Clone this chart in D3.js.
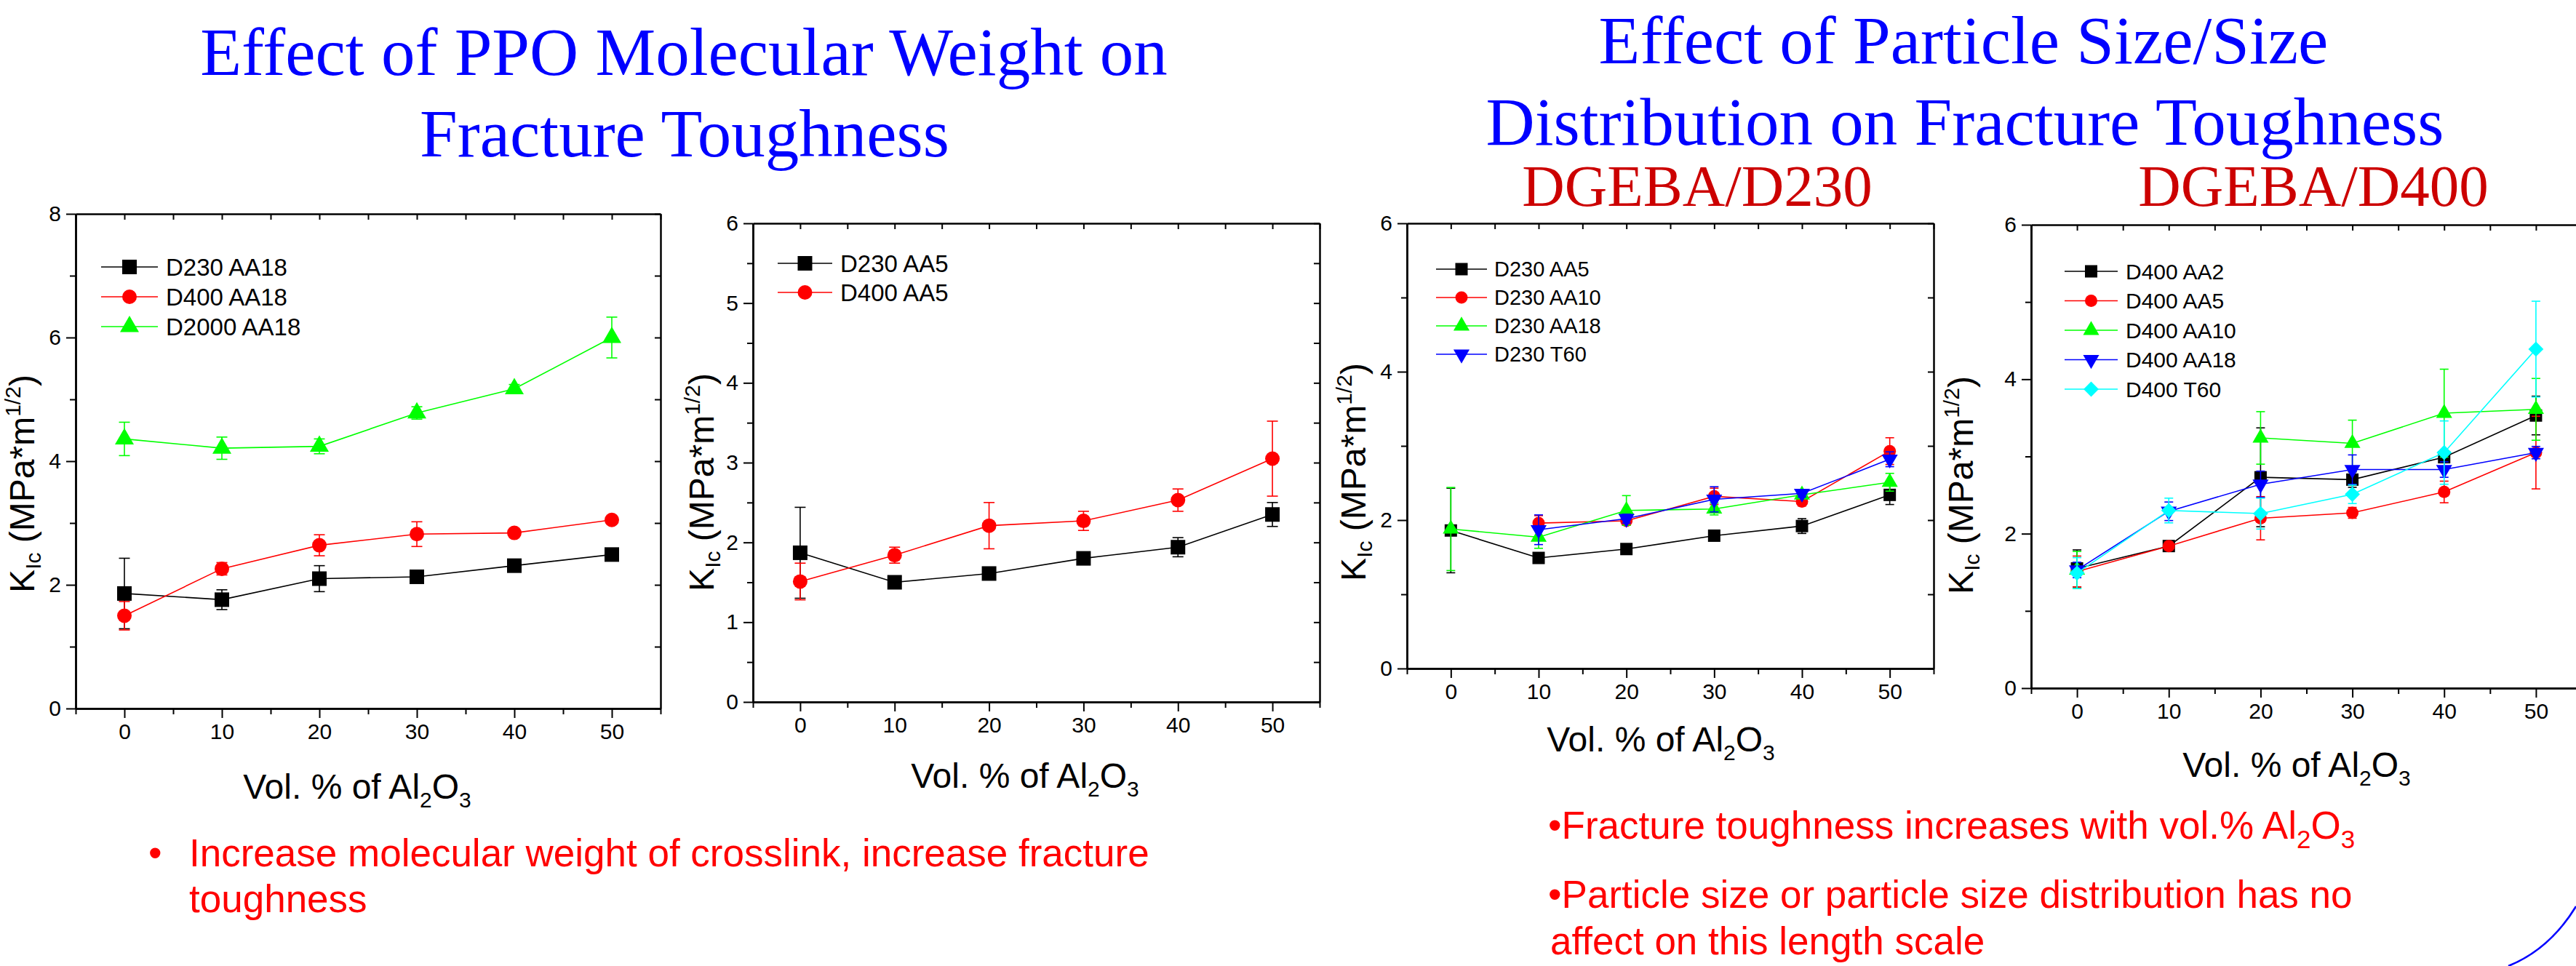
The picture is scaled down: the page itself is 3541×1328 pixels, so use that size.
<!DOCTYPE html>
<html>
<head>
<meta charset="utf-8">
<script src="https://cdn.jsdelivr.net/npm/d3@7"></script>
<style>
  html, body { margin: 0; padding: 0; background: #fff; }
  svg { display: block; }
  .tick text { font-family: "Liberation Sans", Arial, sans-serif; }
</style>
</head>
<body>
<script>
"use strict";
// x values shared by every panel
const VOL = [0, 10, 20, 30, 40, 50];
const X_MINOR = [-5, 5, 15, 25, 35, 45, 55];

// panel A: PPO molecular weight, AA18 alumina
const a_D230_AA18 = [1.86, 1.76, 2.10, 2.13, 2.31, 2.49];
const a_D230_AA18_err = [0.57, 0.16, 0.21, 0.06, 0.06, 0.10];
const a_D400_AA18 = [1.50, 2.26, 2.64, 2.82, 2.84, 3.05];
const a_D400_AA18_err = [0.23, 0.10, 0.17, 0.20, 0.04, 0.05];
const a_D2000_AA18 = [4.36, 4.21, 4.24, 4.78, 5.17, 6.00];
const a_D2000_AA18_err = [0.27, 0.18, 0.12, 0.10, 0.07, 0.33];

// panel B: PPO molecular weight, AA5 alumina
const b_D230_AA5 = [1.87, 1.50, 1.61, 1.80, 1.94, 2.35];
const b_D230_AA5_err = [0.57, 0.03, 0.03, 0.03, 0.12, 0.15];
const b_D400_AA5 = [1.51, 1.84, 2.21, 2.27, 2.53, 3.05];
const b_D400_AA5_err = [0.23, 0.10, 0.29, 0.12, 0.14, 0.47];

// panel C: DGEBA/D230, particle size
const c_D230_AA5 = [1.86, 1.49, 1.61, 1.79, 1.92, 2.34];
const c_D230_AA5_err = [0.57, 0.03, 0.03, 0.03, 0.10, 0.13];
const c_D230_AA10 = [null, 1.96, 1.99, 2.32, 2.25, 2.93];
const c_D230_AA10_err = [null, 0.10, 0.06, 0.11, 0.06, 0.18];
const c_D230_AA18 = [1.88, 1.77, 2.13, 2.15, 2.34, 2.51];
const c_D230_AA18_err = [0.56, 0.15, 0.20, 0.08, 0.05, 0.12];
const c_D230_T60 = [null, 1.87, 2.02, 2.28, 2.36, 2.82];
const c_D230_T60_err = [null, 0.20, 0.06, 0.17, 0.05, 0.10];

// panel D: DGEBA/D400, particle size
const d_D400_AA2 = [1.55, 1.84, 2.73, 2.70, 2.99, 3.53];
const d_D400_AA2_err = [0.24, 0.05, 0.64, 0.10, 0.05, 0.25];
const d_D400_AA5 = [1.51, 1.84, 2.20, 2.27, 2.54, 3.05];
const d_D400_AA5_err = [0.20, 0.05, 0.28, 0.07, 0.14, 0.47];
const d_D400_AA10 = [1.53, null, 3.24, 3.17, 3.56, 3.61];
const d_D400_AA10_err = [0.24, null, 0.34, 0.30, 0.57, 0.40];
const d_D400_AA18 = [1.53, 2.29, 2.64, 2.83, 2.83, 3.05];
const d_D400_AA18_err = [0.10, 0.12, 0.17, 0.19, 0.10, 0.08];
const d_D400_T60 = [1.49, 2.30, 2.26, 2.51, 3.05, 4.39];
const d_D400_T60_err = [0.20, 0.16, 0.20, 0.12, 0.41, 0.62];

const SANS = '"Liberation Sans", Arial, sans-serif';
const SERIF = '"Liberation Serif", "Times New Roman", serif';

const W = 3541, H = 1328;
const svg = d3.select('body').append('svg')
  .attr('width', W).attr('height', H);
svg.append('rect').attr('width', W).attr('height', H).attr('fill', '#fff');

// marker shapes, sized by nominal width in px
const SHAPES = {
  square: { type: d3.symbolSquare, area: s => s * s, rot: 0 },
  circle: { type: d3.symbolCircle, area: s => Math.PI * s * s / 4, rot: 0 },
  up: { type: d3.symbolTriangle, area: s => 0.433 * (1.3 * s) * (1.3 * s), rot: 0 },
  down: { type: d3.symbolTriangle, area: s => 0.433 * (1.3 * s) * (1.3 * s), rot: 180 },
  diamond: { type: d3.symbolSquare, area: s => 0.75 * s * s, rot: 45 }
};
function marker(sel, shape, size, color, cx, cy) {
  const sh = SHAPES[shape];
  sel.append('path')
    .attr('d', d3.symbol().type(sh.type).size(sh.area(size))())
    .attr('transform', `translate(${cx},${cy}) rotate(${sh.rot})`)
    .attr('fill', color);
}

function ser(name, vals, errs, color, shape) {
  return { name, color, shape, pts: VOL.map((v, i) => ({ x: v, y: vals[i], e: errs[i] })) };
}

const panels = [
  {
    box: { left: 104, right: 908, top: 294, bottom: 974 },
    yMax: 8, yMajor: [0, 2, 4, 6, 8], yMinor: [1, 3, 5, 7],
    ms: 20, cap: 15, legFont: 33,
    leg: { x1: 139, x2: 217, tx: 228, y0: 367, dy: 41 },
    yTitle: { x: 47, y: 665 }, xTitle: { x: 491, y: 1098 },
    series: [
      ser('D230 AA18', a_D230_AA18, a_D230_AA18_err, '#000000', 'square'),
      ser('D400 AA18', a_D400_AA18, a_D400_AA18_err, '#ff0000', 'circle'),
      ser('D2000 AA18', a_D2000_AA18, a_D2000_AA18_err, '#00ff00', 'up')
    ]
  },
  {
    box: { left: 1035, right: 1814, top: 307, bottom: 965 },
    yMax: 6, yMajor: [0, 1, 2, 3, 4, 5, 6], yMinor: [0.5, 1.5, 2.5, 3.5, 4.5, 5.5],
    ms: 20, cap: 15, legFont: 33,
    leg: { x1: 1069, x2: 1144, tx: 1155, y0: 362, dy: 40 },
    yTitle: { x: 981, y: 663 }, xTitle: { x: 1409, y: 1083 },
    series: [
      ser('D230 AA5', b_D230_AA5, b_D230_AA5_err, '#000000', 'square'),
      ser('D400 AA5', b_D400_AA5, b_D400_AA5_err, '#ff0000', 'circle')
    ]
  },
  {
    box: { left: 1934, right: 2658, top: 307, bottom: 919 },
    yMax: 6, yMajor: [0, 2, 4, 6], yMinor: [1, 3, 5],
    ms: 17, cap: 12, legFont: 29,
    leg: { x1: 1974, x2: 2044, tx: 2054, y0: 370, dy: 39 },
    yTitle: { x: 1877, y: 649 }, xTitle: { x: 2283, y: 1033 },
    series: [
      ser('D230 AA5', c_D230_AA5, c_D230_AA5_err, '#000000', 'square'),
      ser('D230 AA10', c_D230_AA10, c_D230_AA10_err, '#ff0000', 'circle'),
      ser('D230 AA18', c_D230_AA18, c_D230_AA18_err, '#00ff00', 'up'),
      ser('D230 T60', c_D230_T60, c_D230_T60_err, '#0000ff', 'down')
    ]
  },
  {
    box: { left: 2792, right: 3549, top: 309, bottom: 946 },
    yMax: 6, yMajor: [0, 2, 4, 6], yMinor: [1, 3, 5],
    ms: 17, cap: 12, legFont: 30,
    leg: { x1: 2838, x2: 2911, tx: 2922, y0: 373, dy: 40.5 },
    yTitle: { x: 2712, y: 667 }, xTitle: { x: 3157, y: 1068 },
    series: [
      ser('D400 AA2', d_D400_AA2, d_D400_AA2_err, '#000000', 'square'),
      ser('D400 AA5', d_D400_AA5, d_D400_AA5_err, '#ff0000', 'circle'),
      ser('D400 AA10', d_D400_AA10, d_D400_AA10_err, '#00ff00', 'up'),
      ser('D400 AA18', d_D400_AA18, d_D400_AA18_err, '#0000ff', 'down'),
      ser('D400 T60', d_D400_T60, d_D400_T60_err, '#00ffff', 'diamond')
    ]
  }
];

function styleAxis(g, fs) {
  g.select('.domain').attr('stroke', '#000').attr('stroke-width', 2.5);
  g.selectAll('.tick line').attr('stroke', '#000').attr('stroke-width', 2);
  g.selectAll('.tick text').attr('fill', '#000').style('font-size', fs + 'px');
}

function drawPanel(p) {
  const b = p.box;
  const x = d3.scaleLinear().domain([-5, 55]).range([b.left, b.right]);
  const y = d3.scaleLinear().domain([0, p.yMax]).range([b.bottom, b.top]);
  const g = svg.append('g');

  // top and right frame with inward ticks
  g.append('g').attr('transform', `translate(0,${b.top})`)
    .call(d3.axisBottom(x).tickValues(VOL.concat(X_MINOR)).tickSize(8).tickSizeOuter(0).tickFormat(''))
    .call(s => styleAxis(s, 30));
  g.append('g').attr('transform', `translate(${b.right},0)`)
    .call(d3.axisLeft(y).tickValues(p.yMajor.concat(p.yMinor)).tickSize(8).tickSizeOuter(0).tickFormat(''))
    .call(s => styleAxis(s, 30));

  // bottom axis: major + minor
  g.append('g').attr('transform', `translate(0,${b.bottom})`)
    .call(d3.axisBottom(x).tickValues(X_MINOR).tickSize(8).tickSizeOuter(0).tickFormat(''))
    .call(s => styleAxis(s, 30));
  g.append('g').attr('transform', `translate(0,${b.bottom})`)
    .call(d3.axisBottom(x).tickValues(VOL).tickSize(13).tickSizeOuter(0).tickPadding(8).tickFormat(d3.format('d')))
    .call(s => styleAxis(s, 30));

  // left axis: major + minor
  g.append('g').attr('transform', `translate(${b.left},0)`)
    .call(d3.axisLeft(y).tickValues(p.yMinor).tickSize(8).tickSizeOuter(0).tickFormat(''))
    .call(s => styleAxis(s, 30));
  g.append('g').attr('transform', `translate(${b.left},0)`)
    .call(d3.axisLeft(y).tickValues(p.yMajor).tickSize(13).tickSizeOuter(0).tickPadding(7).tickFormat(d3.format('d')))
    .call(s => styleAxis(s, 30));

  // axis titles
  const yt = g.append('text')
    .attr('transform', `translate(${p.yTitle.x},${p.yTitle.y}) rotate(-90)`)
    .attr('text-anchor', 'middle')
    .style('font-family', SANS).style('font-size', '48px').attr('fill', '#000');
  yt.append('tspan').text('K');
  yt.append('tspan').attr('dy', 9).style('font-size', '30px').text('Ic');
  yt.append('tspan').attr('dy', -9).text(' (MPa*m');
  yt.append('tspan').attr('dy', -19).style('font-size', '30px').text('1/2');
  yt.append('tspan').attr('dy', 19).text(')');

  const xt = g.append('text')
    .attr('x', p.xTitle.x).attr('y', p.xTitle.y)
    .attr('text-anchor', 'middle')
    .style('font-family', SANS).style('font-size', '48px').attr('fill', '#000');
  xt.append('tspan').text('Vol. % of Al');
  xt.append('tspan').attr('dy', 12).style('font-size', '30px').text('2');
  xt.append('tspan').attr('dy', -12).text('O');
  xt.append('tspan').attr('dy', 12).style('font-size', '30px').text('3');

  // data
  const line = d3.line().defined(d => d.y != null).x(d => x(d.x)).y(d => y(d.y));
  p.series.forEach(s => {
    const sg = g.append('g');
    sg.append('path').datum(s.pts).attr('d', line)
      .attr('fill', 'none').attr('stroke', s.color).attr('stroke-width', 1.6);
    s.pts.filter(d => d.y != null && d.e).forEach(d => {
      const cx = x(d.x), y1 = y(d.y + d.e), y2 = y(d.y - d.e);
      sg.append('line').attr('x1', cx).attr('x2', cx).attr('y1', y1).attr('y2', y2)
        .attr('stroke', s.color).attr('stroke-width', 1.6);
      [y1, y2].forEach(yy => sg.append('line')
        .attr('x1', cx - p.cap / 2).attr('x2', cx + p.cap / 2).attr('y1', yy).attr('y2', yy)
        .attr('stroke', s.color).attr('stroke-width', 1.6));
    });
    s.pts.filter(d => d.y != null).forEach(d => marker(sg, s.shape, p.ms, s.color, x(d.x), y(d.y)));
  });

  // legend
  p.series.forEach((s, i) => {
    const ly = p.leg.y0 + i * p.leg.dy;
    const mx = (p.leg.x1 + p.leg.x2) / 2;
    g.append('line').attr('x1', p.leg.x1).attr('x2', p.leg.x2).attr('y1', ly).attr('y2', ly)
      .attr('stroke', s.color).attr('stroke-width', 1.6);
    marker(g, s.shape, p.ms, s.color, mx, ly);
    g.append('text').attr('x', p.leg.tx).attr('y', ly).attr('dy', '0.36em')
      .style('font-family', SANS).style('font-size', p.legFont + 'px').attr('fill', '#000')
      .text(s.name);
  });
}

panels.forEach(drawPanel);

// slide headings
const headings = [
  { text: 'Effect of PPO Molecular Weight on', x: 940, y: 103, size: 93, color: '#0000ff' },
  { text: 'Fracture Toughness', x: 941, y: 215, size: 93, color: '#0000ff' },
  { text: 'Effect of Particle Size/Size', x: 2699, y: 87, size: 93, color: '#0000ff' },
  { text: 'Distribution on Fracture Toughness', x: 2701, y: 199, size: 93, color: '#0000ff' },
  { text: 'DGEBA/D230', x: 2333, y: 283, size: 81, color: '#cc0000' },
  { text: 'DGEBA/D400', x: 3180, y: 283, size: 81, color: '#cc0000' }
];
svg.append('g').selectAll('text').data(headings).join('text')
  .attr('x', d => d.x).attr('y', d => d.y)
  .attr('text-anchor', 'middle')
  .style('font-family', SERIF).style('font-size', d => d.size + 'px')
  .attr('fill', d => d.color)
  .text(d => d.text);

// bullet notes
const notes = svg.append('g').style('font-family', SANS).style('font-size', '53px').attr('fill', '#ff0000');
notes.append('text').attr('x', 204).attr('y', 1191).text('•');
notes.append('text').attr('x', 260).attr('y', 1191).text('Increase molecular weight of crosslink, increase fracture');
notes.append('text').attr('x', 260).attr('y', 1254).text('toughness');
const n1 = notes.append('text').attr('x', 2128).attr('y', 1153);
n1.append('tspan').text('•Fracture toughness increases with vol.% Al');
n1.append('tspan').attr('dy', 13).style('font-size', '35px').text('2');
n1.append('tspan').attr('dy', -13).text('O');
n1.append('tspan').attr('dy', 13).style('font-size', '35px').text('3');
notes.append('text').attr('x', 2128).attr('y', 1248).text('•Particle size or particle size distribution has no');
notes.append('text').attr('x', 2131).attr('y', 1312).text('affect on this length scale');

// decorative arc in the corner of the slide
svg.append('path').attr('d', 'M3541,1246 Q3505,1305 3448,1328')
  .attr('fill', 'none').attr('stroke', '#0000ff').attr('stroke-width', 2.5);
</script>
</body>
</html>
